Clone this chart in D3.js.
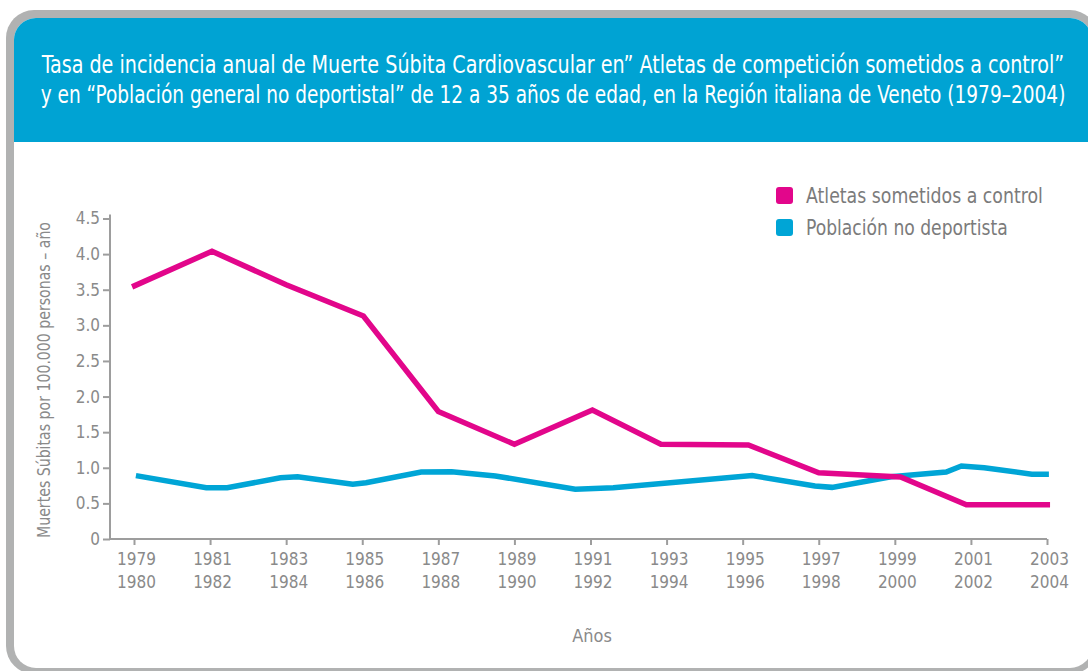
<!DOCTYPE html>
<html>
<head>
<meta charset="utf-8">
<script src="https://cdn.jsdelivr.net/npm/d3@7"></script>
<style>
    body { margin: 0; background: #fff; }
    svg { display: block; }
    text { font-family: "Liberation Sans Narrow", "DejaVu Sans Condensed", "Roboto", sans-serif; }
</style>
</head>
<body>
<svg id="chart" width="1088" height="671"></svg>
<script>
// === DATA ===

const TITLE_LINES = [
    'Tasa de incidencia anual de Muerte Súbita Cardiovascular en\u201D Atletas de competición sometidos a control\u201D',
    'y en \u201CPoblación general no deportistal\u201D de 12 a 35 años de edad, en la Región italiana de Veneto (1979\u20132004)'
];

const SERIES_NAMES = ['Atletas sometidos a control', 'Población no deportista'];

// athletes under screening (year position, rate)
const athleteYears = [1978.95, 1981.05, 1983.0, 1985.03, 1987.0, 1989.0, 1991.05, 1992.85, 1995.15, 1997.0, 1999.15, 2000.88, 2003.08];
const athleteRates = [3.54, 4.04, 3.57, 3.13, 1.79, 1.33, 1.81, 1.33, 1.32, 0.93, 0.87, 0.48, 0.48];

// general non-athlete population
const generalYears = [1979.05, 1980.9, 1981.45, 1982.85, 1983.3, 1984.75, 1985.1, 1986.55, 1987.35, 1988.5,
                      1990.6, 1991.6, 1995.25, 1996.9, 1997.35, 1998.9, 2000.35, 2000.75, 2001.35, 2002.6, 2003.05];
const generalRates = [0.89, 0.72, 0.72, 0.86, 0.875, 0.77, 0.79, 0.94, 0.945, 0.885,
                      0.70, 0.72, 0.89, 0.745, 0.725, 0.875, 0.94, 1.025, 1.0, 0.91, 0.91];

const xTickYears = [1979, 1981, 1983, 1985, 1987, 1989, 1991, 1993, 1995, 1997, 1999, 2001, 2003];
const xTickLabels = [
    ['1979', '1980'], ['1981', '1982'], ['1983', '1984'], ['1985', '1986'], ['1987', '1988'],
    ['1989', '1990'], ['1991', '1992'], ['1993', '1994'], ['1995', '1996'], ['1997', '1998'],
    ['1999', '2000'], ['2001', '2002'], ['2003', '2004']
];
const yTicks = [0, 0.5, 1.0, 1.5, 2.0, 2.5, 3.0, 3.5, 4.0, 4.5];

const Y_TITLE = 'Muertes Súbitas por 100.000 personas \u2013 año';
const X_TITLE = 'Años';

// === STYLE ===

const PINK = '#e2068b';
const BLUE = '#00a5d6';
const HEADER_BLUE = '#00a3d3';
const FRAME_GREY = '#b1b2b2';
const AXIS_GREY = '#9d9d9d';
const LABEL_GREY = '#8a8a8a';

const plot = { left: 110, top: 218.5, bottom: 539, x0: 134, x1: 1047 };

const svg = d3.select('#chart');

// squeeze a text horizontally so its width matches the target
function fitWidth(sel, target, extra = '') {
    sel.each(function (d, i) {
        const t = d3.select(this);
        const w = this.getComputedTextLength();
        const goal = typeof target === 'function' ? target(d, i) : target;
        const base = t.attr('data-base') || '';
        t.attr('transform', `${base} ${extra} scale(${goal / w},1)`);
    });
}

// === FRAME & HEADER ===

svg.append('rect')
    .attr('x', 6).attr('y', 10)
    .attr('width', 1092).attr('height', 664)
    .attr('rx', 28)
    .attr('fill', FRAME_GREY);

svg.append('clipPath').attr('id', 'inner-clip')
    .append('rect')
    .attr('x', 14).attr('y', 18)
    .attr('width', 1078).attr('height', 650)
    .attr('rx', 22);

const inner = svg.append('g').attr('clip-path', 'url(#inner-clip)');
inner.append('rect')
    .attr('x', 0).attr('y', 0).attr('width', 1100).attr('height', 680)
    .attr('fill', '#fff');
inner.append('rect')
    .attr('x', 0).attr('y', 0).attr('width', 1100).attr('height', 142)
    .attr('fill', HEADER_BLUE);

svg.selectAll('.title-line')
    .data(TITLE_LINES)
    .join('text')
    .attr('class', 'title-line')
    .attr('data-base', (d, i) => `translate(553,${73 + i * 30})`)
    .attr('text-anchor', 'middle')
    .attr('font-size', 25)
    .attr('fill', '#fff')
    .text(d => d)
    .call(fitWidth, (d, i) => i === 0 ? 1023 : 1025);

// === SCALES ===

const x = d3.scaleLinear().domain([1979, 2003]).range([plot.x0, plot.x1]);
const y = d3.scaleLinear().domain([0, 4.5]).range([plot.bottom, plot.top]);

// === AXES ===

const yAxis = svg.append('g')
    .attr('transform', `translate(${plot.left},0)`)
    .call(d3.axisLeft(y)
        .tickValues(yTicks)
        .tickSize(7)
        .tickSizeOuter(0)
        .tickPadding(3)
        .tickFormat(d => d === 0 ? '0' : d3.format('.1f')(d)));

yAxis.select('.domain').attr('d', `M0,${plot.bottom}V${plot.top - 4}`);

const xAxis = svg.append('g')
    .attr('transform', `translate(0,${plot.bottom})`)
    .call(d3.axisBottom(x)
        .tickValues(xTickYears)
        .tickSize(6)
        .tickSizeOuter(0)
        .tickFormat(''));

xAxis.select('.domain').attr('d', `M${plot.left},0H${plot.x1}`);

xAxis.selectAll('.tick text').each(function (d, i) {
    const t = d3.select(this).attr('y', 0).attr('dy', null);
    xTickLabels[i].forEach((s, k) => {
        t.append('tspan')
            .attr('x', 2)
            .attr('y', 26 + k * 23)
            .text(s);
    });
});

[yAxis, xAxis].forEach(a => {
    a.selectAll('.domain, .tick line')
        .attr('stroke', AXIS_GREY)
        .attr('stroke-width', 2);
    a.selectAll('.tick text')
        .attr('fill', LABEL_GREY)
        .attr('font-size', 17);
});

// axis titles
svg.append('text')
    .attr('data-base', 'translate(50,380) rotate(-90)')
    .attr('text-anchor', 'middle')
    .attr('font-size', 17)
    .attr('fill', LABEL_GREY)
    .text(Y_TITLE)
    .call(fitWidth, 316);

svg.append('text')
    .attr('x', 592)
    .attr('y', 642)
    .attr('text-anchor', 'middle')
    .attr('font-size', 18)
    .attr('fill', LABEL_GREY)
    .text(X_TITLE);

// === LINES ===

const line = d3.line()
    .x(d => x(d[0]))
    .y(d => y(d[1]));

const series = [
    { name: SERIES_NAMES[0], color: PINK, points: d3.zip(athleteYears, athleteRates) },
    { name: SERIES_NAMES[1], color: BLUE, points: d3.zip(generalYears, generalRates) }
];

svg.selectAll('.series-line')
    .data([series[1], series[0]])
    .join('path')
    .attr('class', 'series-line')
    .attr('d', d => line(d.points))
    .attr('fill', 'none')
    .attr('stroke', d => d.color)
    .attr('stroke-width', 5.5)
    .attr('stroke-linejoin', 'miter');

// === LEGEND ===

const legend = svg.selectAll('.legend-item')
    .data(series)
    .join('g')
    .attr('class', 'legend-item')
    .attr('transform', (d, i) => `translate(776,${187 + i * 32})`);

legend.append('rect')
    .attr('width', 17).attr('height', 17)
    .attr('rx', 3)
    .attr('fill', d => d.color);

legend.append('text')
    .attr('data-base', 'translate(30,16)')
    .attr('font-size', 22)
    .attr('fill', '#7b7b7b')
    .text(d => d.name)
    .call(fitWidth, (d, i) => i === 0 ? 237 : 202);
</script>
</body>
</html>
